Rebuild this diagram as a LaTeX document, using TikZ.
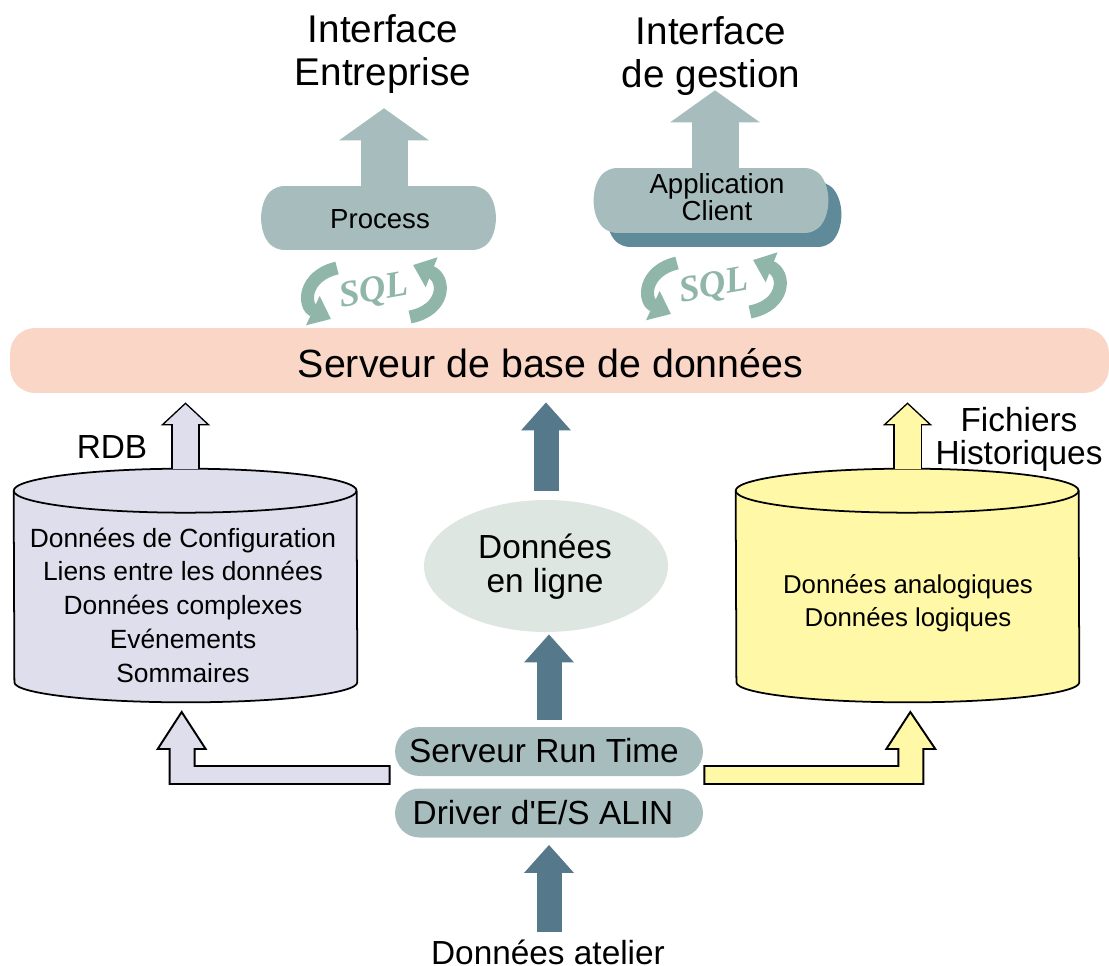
\documentclass[tikz,border=0pt]{standalone}
\usepackage{fontspec}
\setmainfont{Liberation Sans}
\newfontfamily\sqlfont{Liberation Serif}
\usetikzlibrary{arrows.meta,shapes.geometric,shapes.misc}
\definecolor{tealfill}{HTML}{A6BCBD}
\definecolor{tealdark}{HTML}{5F8A9A}
\definecolor{slatefill}{HTML}{55788A}
\definecolor{salmonfill}{HTML}{F9D6C6}
\definecolor{lilacfill}{HTML}{DEDEEC}
\definecolor{yellowfill}{HTML}{FFF8A6}
\definecolor{mistfill}{HTML}{DDE6E1}
\definecolor{sqlgreen}{HTML}{8FB6A9}
\tikzset{
    pill/.style={rounded rectangle,fill=tealfill,minimum width=6.16cm,minimum height=0.98cm,inner sep=0pt},
    bulge/.style={rounded rectangle,rounded rectangle arc length=90,rounded corners=0.16cm,minimum width=4.64cm,minimum height=1.28cm,inner sep=0pt},
    drumbox/.style={rectangle,minimum width=6.86cm,minimum height=4.66cm,inner sep=0pt},
    drumline/.style={draw=black,line width=1pt},
    biglabel/.style={align=center,font=\fontsize{22}{24}\selectfont},
    midlabel/.style={align=center,inner sep=0pt,font=\fontsize{19}{19.3}\selectfont},
    smalllabel/.style={align=center,font=\fontsize{15}{19.2}\selectfont},
    sqltext/.style={rotate=10,text=sqlgreen,font=\sqlfont\itshape\bfseries\fontsize{21}{21}\selectfont},
    sqlarrow/.style={draw=sqlgreen,line width=0.26cm,-{Triangle[length=0.4cm,width=0.62cm]}},
    slatearrow/.style={draw=slatefill,line width=0.5cm,-{Triangle[length=0.56cm,width=0.96cm]}},
    tealarrow/.style={draw=tealfill,line width=0.94cm,-{Triangle[length=0.64cm,width=1.76cm]}},
    elbow/.style={draw=black,line width=1.1pt,line join=miter},
}
% straight block arrow with a black edge: {fill colour}{path}
\newcommand{\edgedarrow}[2]{
    \draw[draw=black,line width=0.58cm,shorten >=0.18cm,-{Triangle[length=0.46cm,width=0.96cm]}] #2;
    \draw[draw=#1,line width=0.52cm,shorten >=0.22cm,-{Triangle[length=0.39cm,width=0.81cm]}] #2;
}

\begin{document}
\begin{tikzpicture}[x=0.02cm,y=-0.02cm]
    \useasboundingbox (0,0) rectangle (1109,966);

    \node[biglabel] (entreprise) at (383,54) {Interface\\Entreprise};
    \node[biglabel] (gestion) at (711,56) {Interface\\de gestion};

    \node[bulge,fill=tealfill] (process) at (378.5,218) {};
    \node[font=\fontsize{15.7}{16}\selectfont] (processtext) at (380,219) {Process};
    \node[bulge,fill=tealdark,minimum height=1.3cm] (clientback) at (724,214.5) {};
    \node[bulge,fill=tealfill,minimum height=1.3cm] (client) at (711,200.5) {};
    \node[align=center,font=\fontsize{15.7}{15.3}\selectfont] (clienttext) at (717,197) {Application\\Client};

    \draw[tealarrow,shorten >=0.18cm] ([xshift=0.02cm]entreprise.south |- process.north) -- ([xshift=0.02cm]entreprise.south);
    \draw[tealarrow,shorten >=-0.22cm] ([xshift=0.08cm]gestion.south |- client.north) -- ([xshift=0.08cm]gestion.south);

    \foreach \nm/\cx/\cy in {sqlleft/374/292,sqlright/714/287}{
        \node[sqltext] (\nm) at (\cx,\cy) {SQL};
        \draw[sqlarrow] (\cx-37,\cy-24) .. controls (\cx-71,\cy-16) and (\cx-71,\cy+14) .. (\cx-43,\cy+27);
        \draw[sqlarrow] (\cx+36,\cy+25) .. controls (\cx+72,\cy+18) and (\cx+72,\cy-14) .. (\cx+39,\cy-27);
    }

    \node[rounded corners=0.5cm,fill=salmonfill,minimum width=21.98cm,minimum height=1.3cm,inner sep=0pt] (server) at (559.5,360.5) {};
    \node[font=\fontsize{22.4}{23}\selectfont] (servertext) at (550.5,363) {Serveur de base de données};

    \node[drumbox] (relational) at (185.5,585.5) {};
    \node[drumbox] (history) at (907.5,585.5) {};
    \foreach \nm/\col in {relational/lilacfill,history/yellowfill}{
        \draw[drumline,fill=\col] ([yshift=-0.44cm]\nm.north west) arc[x radius=3.43cm,y radius=0.44cm,start angle=180,end angle=0]
            -- ([yshift=0.4cm]\nm.south east) arc[x radius=3.43cm,y radius=0.4cm,start angle=0,end angle=-180] -- cycle;
        \draw[drumline] ([yshift=-0.44cm]\nm.north west) arc[x radius=3.43cm,y radius=0.44cm,start angle=180,end angle=360];
    }
    \node[smalllabel] (relationaltext) at (183,605) {Données de Configuration\\Liens entre les données\\Données complexes\\Evénements\\Sommaires};
    \node[align=center,font=\fontsize{14.7}{18.7}\selectfont] (historytext) at (908,603.5) {Données analogiques\\Données logiques};

    \node[ellipse,fill=mistfill,minimum width=4.88cm,minimum height=2.64cm,inner sep=0pt] (online) at (546,566) {};
    \node[midlabel] (onlinetext) at (545,566.5) {Données\\en ligne};

    \node[pill] (runtime) at (549,751.5) {};
    \node[pill] (driver) at (549,813) {};
    \node[midlabel] (runtimetext) at (544,751) {Serveur Run Time};
    \node[midlabel] (drivertext) at (543,813) {Driver d\textquotesingle E/S ALIN};
    \node[midlabel] (atelier) at (548,952) {Données atelier};

    \node[midlabel] (rdb) at (112,447) {RDB};
    \node[align=center,font=\fontsize{19}{18.7}\selectfont] (fichiers) at (1019,439.5) {Fichiers\\Historiques};

    \draw[slatearrow,shorten <=0.14cm,shorten >=0.14cm] (atelier.north -| driver.south) -- (driver.south);
    \draw[slatearrow,shorten <=0.14cm,shorten >=0.04cm] (runtime.north) -- (online.south -| runtime.north);
    \draw[slatearrow,shorten <=0.18cm,shorten >=0.18cm] (online.north) -- (online.north |- server.south);

    \edgedarrow{lilacfill}{(relational.north) -- (relational.north |- server.south)}
    \edgedarrow{yellowfill}{(history.north) -- (history.north |- server.south)}
    \draw[elbow,fill=lilacfill] ([shift={(-5,14.5)}]runtime.west) -- ++(-195,0) -- ++(0,-17) -- ++(11,0) -- ++(-24,-37) -- ++(-24,37) -- ++(12,0) -- ++(0,35) -- ++(220,0) -- cycle;
    \draw[elbow,fill=yellowfill] ([shift={(1,14.5)}]runtime.east) -- ++(194,0) -- ++(0,-17) -- ++(-12,0) -- ++(24,-37) -- ++(25,37) -- ++(-12,0) -- ++(0,35) -- ++(-219,0) -- cycle;
\end{tikzpicture}
\end{document}
